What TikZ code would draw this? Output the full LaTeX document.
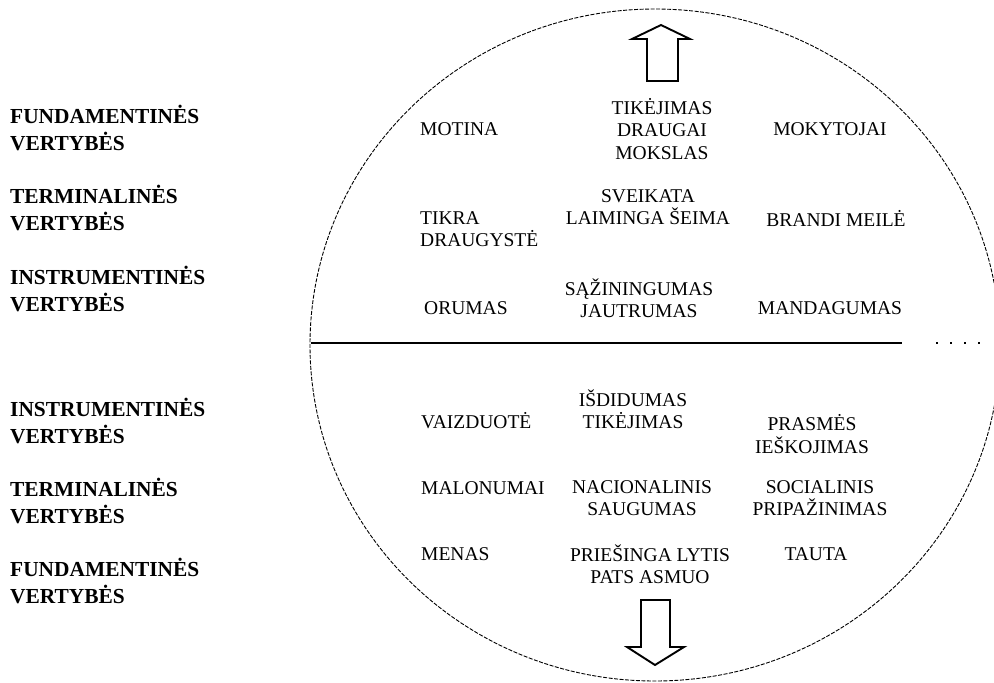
\documentclass[tikz,border=0pt]{standalone}
\usepackage{fontspec}
\setmainfont{Liberation Serif}

\tikzset{
	val/.style={font=\fontsize{19.5}{22.5}\selectfont, inner sep=0pt, align=center},
	lvl/.style={font=\fontsize{21.4}{27}\selectfont\bfseries, inner sep=0pt, align=left, anchor=west},
	bigarrow/.style={line width=1.9pt, line join=miter},
}

\begin{document}
\begin{tikzpicture}[x=1pt, y=-1pt]
			\useasboundingbox (0,0) rectangle (994,683);
			\clip (0,0) rectangle (994,683);
			% circle and dividing line
			\draw[line width=0.9pt, dash pattern=on 4pt off 1.5pt] (655,345) ellipse [x radius=345, y radius=336];
			\coordinate (lineleft) at (311,343);
			\coordinate (lineright) at (902,343);
			\coordinate (lineend) at (984,343);
			\draw[line width=1.2pt] (lineleft) -- (lineright);
			\draw[line width=1.2pt, dash pattern=on 1.5pt off 12.5pt] ([xshift=34pt]lineright) -- (lineend);

			% levels, left
			\node[lvl]  (fund1)   at (10,128)  {FUNDAMENTINĖS\\VERTYBĖS};
			\node[lvl]  (term1)   at (10,208)  {TERMINALINĖS\\VERTYBĖS};
			\node[lvl]  (instr1)  at (10,289)  {INSTRUMENTINĖS\\VERTYBĖS};
			\node[lvl]  (instr2)  at (10,421)  {INSTRUMENTINĖS\\VERTYBĖS};
			\node[lvl]  (term2)   at (10,501)  {TERMINALINĖS\\VERTYBĖS};
			\node[lvl]  (fund2)   at (10,581)  {FUNDAMENTINĖS\\VERTYBĖS};

			% upper half
			\node[val, anchor=west]  (motina)     at (420,129)  {MOTINA};
			\node[val]               (tikejimas)  at (662,129)  {TIKĖJIMAS\\DRAUGAI\\MOKSLAS};
			\node[val]               (mokytojai)  at (830,129)  {MOKYTOJAI};
			\node[val, anchor=west, align=left]  (tikra)  at (420,229)  {TIKRA\\DRAUGYSTĖ};
			\node[val]               (sveikata)   at (648,207)  {SVEIKATA\\LAIMINGA ŠEIMA};
			\node[val]               (brandi)     at (836,218)  {BRANDI MEILĖ};
			\node[val, anchor=west]  (orumas)     at (424,308)  {ORUMAS};
			\node[val]               (sazin)      at (639,298)  {SĄŽININGUMAS\\JAUTRUMAS};
			\node[val]               (mandag)     at (830,308)  {MANDAGUMAS};

			% lower half
			\node[val, anchor=west]  (vaizduote)  at (421,421)  {VAIZDUOTĖ};
			\node[val]               (isdidumas)  at (633,409)  {IŠDIDUMAS\\TIKĖJIMAS};
			\node[val]               (prasmes)    at (812,434)  {PRASMĖS\\IEŠKOJIMAS};
			\node[val, anchor=west]  (malonumai)  at (421,488)  {MALONUMAI};
			\node[val]               (nacional)   at (642,498)  {NACIONALINIS\\SAUGUMAS};
			\node[val]               (social)     at (820,498)  {SOCIALINIS\\PRIPAŽINIMAS};
			\node[val, anchor=west]  (menas)      at (421,554)  {MENAS};
			\node[val]               (priesinga)  at (650,564)  {PRIEŠINGA LYTIS\\PATS ASMUO};
			\node[val]               (tauta)      at (816,554)  {TAUTA};

			% block arrows
			\coordinate (uptip) at (661,25);
			\draw[bigarrow] (uptip) -- ++(29,14) -- ++(-12,0) -- ++(0,42) -- ++(-31,0) -- ++(0,-42) -- ++(-15,0) -- cycle;
			\coordinate (downtip) at (655,665);
			\draw[bigarrow] (downtip) -- ++(29,-18) -- ++(-14,0) -- ++(0,-47) -- ++(-29,0) -- ++(0,47) -- ++(-14,0) -- cycle;
		\end{tikzpicture}
\end{document}
